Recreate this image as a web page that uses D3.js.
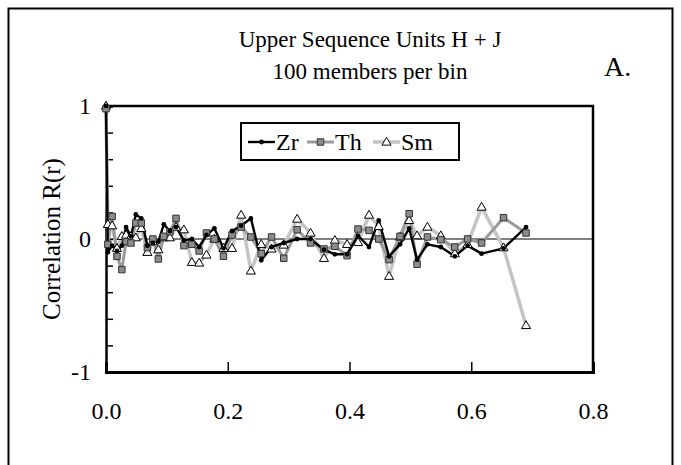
<!DOCTYPE html>
<html>
<head>
<meta charset="utf-8">
<script src="https://cdn.jsdelivr.net/npm/d3@7"></script>
<style>
  body { margin: 0; background: #fff; }
  svg text { font-family: "Liberation Serif", "Times New Roman", serif; fill: #000; }
</style>
</head>
<body>
<div id="chart"></div>
<script>
// lag distance bins (shared by the three elements)
const lags = [0, 0.003, 0.010, 0.018, 0.026, 0.033, 0.041, 0.049, 0.058, 0.068,
  0.077, 0.086, 0.095, 0.105, 0.115, 0.128, 0.141, 0.153, 0.165, 0.178,
  0.193, 0.207, 0.222, 0.238, 0.255, 0.272, 0.292, 0.314, 0.336, 0.358,
  0.376, 0.396, 0.414, 0.432, 0.448, 0.465, 0.483, 0.498, 0.511, 0.528,
  0.55, 0.573, 0.594, 0.617, 0.653, 0.69];

const zr = [1, -0.1, -0.05, -0.09, -0.05, 0.09, 0.02, 0.185, 0.155, -0.05,
  -0.03, -0.02, 0.11, 0.06, 0.09, -0.01, 0.0, -0.06, 0.03, 0.08,
  -0.07, 0.06, 0.1, 0.155, -0.16, -0.06, -0.03, 0.0, 0.0, -0.08,
  -0.115, -0.115, 0.025, -0.06, 0.14, -0.13, -0.04, 0.08, -0.155, -0.04,
  -0.06, -0.13, -0.05, -0.11, -0.07, 0.09];

const th = [0.98, -0.04, 0.17, -0.13, -0.23, -0.02, -0.03, 0.12, 0.12, -0.065,
  0.0, -0.15, 0.02, 0.055, 0.155, -0.05, -0.04, -0.09, 0.045, 0.0,
  -0.13, 0.03, 0.09, 0.015, -0.11, 0.015, -0.145, 0.07, -0.03, -0.075,
  -0.055, -0.125, 0.075, 0.065, 0.0, -0.155, 0.02, 0.19, -0.19, 0.015,
  -0.005, -0.06, 0.0, -0.03, 0.16, 0.045];

const sm = [1, 0.11, 0.1, -0.07, 0.02, 0.03, 0.02, 0.01, 0.08, -0.1,
  -0.02, -0.08, 0.01, 0.01, 0.09, 0.07, -0.175, -0.18, -0.12, 0.0,
  -0.07, -0.07, 0.18, -0.24, -0.04, -0.075, -0.045, 0.15, 0.045, -0.145,
  -0.01, -0.04, -0.025, 0.18, 0.095, -0.28, 0.015, 0.14, 0.025, 0.09,
  0.025, -0.11, -0.04, 0.24, -0.065, -0.65];

const xTicks = [0, 0.2, 0.4, 0.6, 0.8];
const yTicks = [-1, -0.8, -0.6, -0.4, -0.2, 0, 0.2, 0.4, 0.6, 0.8, 1];
const yLabels = [-1, 0, 1];

const W = 681, H = 465;
const svg = d3.select('#chart').append('svg')
  .attr('width', W)
  .attr('height', H);

// outer frame
svg.append('rect')
  .attr('x', 8.5).attr('y', 8.5)
  .attr('width', 664).attr('height', 470)
  .attr('fill', 'none')
  .attr('stroke', '#000')
  .attr('stroke-width', 2);

const x = d3.scaleLinear().domain([0, 0.8]).range([106, 593]);
const y = d3.scaleLinear().domain([-1, 1]).range([372, 106]);

// title
const title = svg.append('text')
  .attr('text-anchor', 'middle')
  .style('font-size', '23px');
title.append('tspan').attr('x', 370).attr('y', 47).text('Upper Sequence Units H + J');
title.append('tspan').attr('x', 370).attr('y', 79).text('100 members per bin');

svg.append('text')
  .attr('x', 604).attr('y', 76)
  .style('font-size', '28px')
  .text('A.');

// zero line
svg.append('line')
  .attr('x1', x(0)).attr('x2', x(0.8))
  .attr('y1', y(0)).attr('y2', y(0))
  .attr('stroke', '#000')
  .attr('stroke-width', 1);

// y axis: inside ticks every 0.2, labels at -1, 0, 1
const yAxis = svg.append('g')
  .attr('transform', `translate(${x(0)},0)`)
  .call(d3.axisLeft(y)
    .tickValues(yTicks)
    .tickSize(-7)
    .tickPadding(15)
    .tickFormat(d => yLabels.some(v => Math.abs(v - d) < 1e-9) ? String(Math.round(d)) : ''));
yAxis.select('.domain').attr('stroke-width', 2.5);
yAxis.selectAll('.tick line').attr('stroke-width', 1.5);
yAxis.selectAll('text').style('font-size', '24px').style('font-family', '"Liberation Serif", serif');

// x axis
const xAxis = svg.append('g')
  .attr('transform', `translate(0,${y(-1)})`)
  .call(d3.axisBottom(x)
    .tickValues(xTicks)
    .tickSize(-10)
    .tickPadding(30)
    .tickFormat(d3.format('.1f')));
xAxis.select('.domain').attr('stroke-width', 3);
xAxis.selectAll('.tick line').attr('stroke-width', 1.5);
xAxis.selectAll('text').style('font-size', '24px').style('font-family', '"Liberation Serif", serif');

// top and right frame of plot area
svg.append('path')
  .attr('d', `M${x(0)},${y(1)}H${x(0.8)}V${y(-1)}`)
  .attr('fill', 'none')
  .attr('stroke', '#000')
  .attr('stroke-width', 2.5);

// axis title
svg.append('text')
  .attr('transform', `translate(60,${y(0)}) rotate(-90)`)
  .attr('text-anchor', 'middle')
  .style('font-size', '25px')
  .text('Correlation R(r)');

const series = [
  { name: 'Sm', values: sm, line: '#c4c4c4', width: 3.5 },
  { name: 'Th', values: th, line: '#9a9a9a', width: 3 },
  { name: 'Zr', values: zr, line: '#000', width: 2.4 }
];

const line = d3.line()
  .x((d, i) => x(lags[i]))
  .y(d => y(d));

const plot = svg.append('g');
series.forEach(s => {
  plot.append('path')
    .datum(s.values)
    .attr('d', line)
    .attr('fill', 'none')
    .attr('stroke', s.line)
    .attr('stroke-width', s.width)
    .attr('stroke-linejoin', 'round');
});

const sq = d3.symbol().type(d3.symbolSquare).size(42);
const tri = d3.symbol().type(d3.symbolTriangle).size(36);

function drawMarker(g, name, cx, cy) {
  if (name === 'Zr') {
    g.append('circle').attr('cx', cx).attr('cy', cy).attr('r', 2.4).attr('fill', '#000');
  } else if (name === 'Th') {
    g.append('path').attr('d', sq).attr('transform', `translate(${cx},${cy})`)
      .attr('fill', '#8c8c8c').attr('stroke', '#333').attr('stroke-width', 1);
  } else {
    g.append('path').attr('d', tri).attr('transform', `translate(${cx},${cy + 0.5})`)
      .attr('fill', '#fff').attr('stroke', '#000').attr('stroke-width', 1);
  }
}

series.forEach(s => {
  const g = plot.append('g');
  s.values.forEach((v, i) => drawMarker(g, s.name, x(lags[i]), y(v)));
});

// legend
const lg = svg.append('g');
lg.append('rect')
  .attr('x', 241).attr('y', 123)
  .attr('width', 218).attr('height', 37)
  .attr('fill', '#fff')
  .attr('stroke', '#000')
  .attr('stroke-width', 2);

const legendItems = [
  { name: 'Zr', x0: 248, line: '#000', width: 2.4 },
  { name: 'Th', x0: 307, line: '#9a9a9a', width: 3 },
  { name: 'Sm', x0: 373, line: '#c4c4c4', width: 3.5 }
];
legendItems.forEach(d => {
  lg.append('line')
    .attr('x1', d.x0).attr('x2', d.x0 + 27)
    .attr('y1', 142).attr('y2', 142)
    .attr('stroke', d.line)
    .attr('stroke-width', d.width);
  drawMarker(lg, d.name, d.x0 + 13.5, 142);
  lg.append('text')
    .attr('x', d.x0 + 28).attr('y', 150)
    .style('font-size', '24px')
    .text(d.name);
});
</script>
</body>
</html>
